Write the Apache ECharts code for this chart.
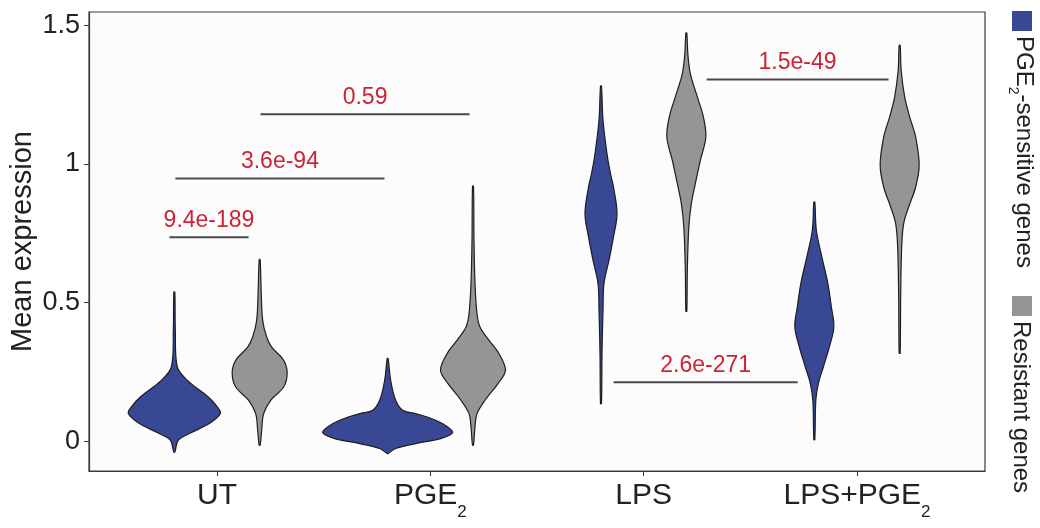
<!DOCTYPE html>
<html>
<head>
<meta charset="utf-8">
<script src="https://cdn.jsdelivr.net/npm/echarts@6/dist/echarts.min.js"></script>
<style>
html,body{margin:0;padding:0;background:#ffffff;}
#chart{width:1040px;height:528px;}
</style>
</head>
<body>
<div id="chart"></div>
<script>
// ---------------- data ----------------
const categories = ['UT', 'PGE2', 'LPS', 'LPS+PGE2'];
const groupNames = ['PGE2-sensitive genes', 'Resistant genes'];
const yTicks = [0, 0.5, 1, 1.5];

// violin profiles: [mean expression, relative density (half-width)]
const utSensitive = [[0.538,0.5],[0.40,1],[0.268,3],[0.22,13],[0.16,34],[0.124,43],[0.10,46],[0.064,35],[0.028,15],[0.004,4],[-0.039,0.5]];
const utResistant = [[0.655,0.5],[0.545,1.5],[0.436,3],[0.376,7],[0.34,12],[0.292,24],[0.246,27.5],[0.196,24],[0.148,11],[0.10,4],[0.04,2],[-0.014,0.5]];
const pgeSensitive = [[0.298,0.5],[0.22,3],[0.148,8],[0.112,15],[0.10,28],[0.076,48],[0.052,60],[0.031,65],[0.01,53],[-0.008,28],[-0.026,8],[-0.044,0.5]];
const pgeResistant = [[0.92,0.5],[0.725,1],[0.569,2],[0.46,4],[0.412,7],[0.364,16],[0.316,26],[0.256,32.5],[0.208,25],[0.148,12],[0.10,4],[0.052,2],[-0.014,0.5]];
const lpsSensitive = [[1.281,0.5],[1.158,2],[1.037,6],[0.965,9.5],[0.917,12.5],[0.821,16],[0.737,12.5],[0.653,8],[0.569,3],[0.472,2],[0.316,1],[0.136,0.5]];
const lpsResistant = [[1.472,0.5],[1.398,1.5],[1.326,4],[1.242,11],[1.17,17],[1.097,19.5],[1.013,14],[0.929,9],[0.857,5],[0.773,2.5],[0.617,1],[0.469,0.5]];
const lpsPgeSensitive = [[0.863,0.5],[0.761,2],[0.665,7.5],[0.569,13.5],[0.485,17],[0.412,19.5],[0.34,15],[0.268,9],[0.208,4],[0.148,1.5],[0.006,0.5]];
const lpsPgeResistant = [[1.428,0.5],[1.338,1.5],[1.242,5],[1.17,10],[1.097,16],[0.995,19.5],[0.917,16],[0.845,9],[0.785,4],[0.70,2],[0.52,1],[0.318,0.5]];

const sensitiveProfiles = [utSensitive, pgeSensitive, lpsSensitive, lpsPgeSensitive];
const resistantProfiles = [utResistant, pgeResistant, lpsResistant, lpsPgeResistant];

// significance brackets
const bracketStart = [0.777, 0.805, 1.204, 2.859, 3.295];
const bracketEnd   = [1.148, 1.785, 2.184, 3.722, 4.148];
const bracketY     = [0.736, 0.948, 1.179, 0.213, 1.305];
const bracketLabels = ['9.4e-189', '3.6e-94', '0.59', '2.6e-271', '1.5e-49'];

// ---------------- styles ----------------
const FONT = '"Liberation Sans", Arial, Helvetica, sans-serif';
const BLUE = '#394894';
const GRAY = '#959595';
const OUTLINE = '#1e1e1e';
const RED = '#cc2434';
const DODGE = 0.2;
const DENSITY_TO_X = 1 / 213.3;

function richLabel(name) {
  return name.replace(/PGE2/g, '{b|PGE}{s|2}').replace(/^([^{]+)(?=\{)/, '{b|$1}').replace(/^([^{]+)$/, '{b|$1}');
}

function violinRender(profiles) {
  return function (params, api) {
    const idx = params.dataIndex;
    const xc = api.value(0);
    const prof = profiles[idx];
    const right = prof.map(p => api.coord([xc + p[1] * DENSITY_TO_X, p[0]]));
    const left = prof.slice().reverse().map(p => api.coord([xc - p[1] * DENSITY_TO_X, p[0]]));
    return {
      type: 'polygon',
      shape: { points: right.concat(left), smooth: 0.35 },
      style: { fill: api.visual('color'), stroke: OUTLINE, lineWidth: 1.2 }
    };
  };
}

const chart = echarts.init(document.getElementById('chart'), null, { renderer: 'canvas' });

const option = {
  animation: false,
  backgroundColor: '#ffffff',
  grid: {
    left: 89, right: 55, top: 12, bottom: 57,
    containLabel: false, outerBoundsMode: 'none',
    show: true, backgroundColor: '#fcfcfc', borderColor: '#3a3a3a', borderWidth: 1.2
  },
  xAxis: {
    type: 'value', min: 0.4, max: 4.6,
    splitLine: { show: false },
    axisLine: { show: true, onZero: false, lineStyle: { color: '#3a3a3a', width: 1.2 } },
    axisTick: { show: true, customValues: [1, 2, 3, 4], length: 5, lineStyle: { color: '#3a3a3a' } },
    axisLabel: {
      customValues: [1, 2, 3, 4], margin: 10,
      formatter: v => richLabel(categories[Math.round(v) - 1]),
      rich: {
        b: { fontSize: 30, fontFamily: FONT, color: '#222', lineHeight: 40, verticalAlign: 'top' },
        s: { fontSize: 17, fontFamily: FONT, color: '#222', lineHeight: 40, verticalAlign: 'bottom' }
      }
    }
  },
  yAxis: {
    type: 'value', min: -0.107, max: 1.548,
    splitLine: { show: false },
    axisLine: { show: true, onZero: false, lineStyle: { color: '#3a3a3a', width: 1.2 } },
    axisTick: { show: true, customValues: yTicks, length: 5, lineStyle: { color: '#3a3a3a' } },
    axisLabel: { customValues: yTicks, fontSize: 27, fontFamily: FONT, color: '#222', margin: 9 },
    name: 'Mean expression', nameLocation: 'middle', nameGap: 52, nameMoveOverlap: false,
    nameTextStyle: { fontSize: 29, fontFamily: FONT, color: '#222' }
  },
  series: [
    {
      name: groupNames[0], type: 'custom', coordinateSystem: 'cartesian2d',
      itemStyle: { color: BLUE },
      data: categories.map((c, i) => [i + 1 - DODGE]),
      renderItem: violinRender(sensitiveProfiles)
    },
    {
      name: groupNames[1], type: 'custom', coordinateSystem: 'cartesian2d',
      itemStyle: { color: GRAY },
      data: categories.map((c, i) => [i + 1 + DODGE]),
      renderItem: violinRender(resistantProfiles)
    },
    {
      name: 'brackets', type: 'custom', coordinateSystem: 'cartesian2d',
      data: bracketLabels.map((l, i) => [bracketStart[i], bracketEnd[i], bracketY[i]]),
      renderItem: function (params, api) {
        const i = params.dataIndex;
        const p1 = api.coord([api.value(0), api.value(2)]);
        const p2 = api.coord([api.value(1), api.value(2)]);
        return {
          type: 'group',
          children: [
            { type: 'line', shape: { x1: p1[0], y1: p1[1], x2: p2[0], y2: p2[1] },
              style: { stroke: '#4a4a4a', lineWidth: 2 } },
            { type: 'text', x: (p1[0] + p2[0]) / 2, y: p1[1] - 5,
              style: { text: bracketLabels[i], fill: RED, font: '23px ' + FONT, align: 'center', verticalAlign: 'bottom' } }
          ]
        };
      }
    }
  ],
  graphic: [
    { type: 'rect', left: 1012, top: 11, shape: { width: 20, height: 20 }, style: { fill: BLUE } },
    { type: 'text', x: 1021, y: 36, rotation: -Math.PI / 2,
      style: { text: '{b|PGE}{s|2}{b|-sensitive genes}', align: 'left', verticalAlign: 'middle',
        rich: {
          b: { fontSize: 24, fontFamily: FONT, fill: '#222', lineHeight: 30, verticalAlign: 'top' },
          s: { fontSize: 14, fontFamily: FONT, fill: '#222', lineHeight: 30, verticalAlign: 'bottom' }
        } } },
    { type: 'rect', left: 1012, top: 296, shape: { width: 20, height: 20 }, style: { fill: GRAY } },
    { type: 'text', x: 1021, y: 321, rotation: -Math.PI / 2,
      style: { text: 'Resistant genes', align: 'left', verticalAlign: 'middle', fill: '#222', font: '24px ' + FONT } }
  ]
};
chart.setOption(option);
</script>
</body>
</html>
